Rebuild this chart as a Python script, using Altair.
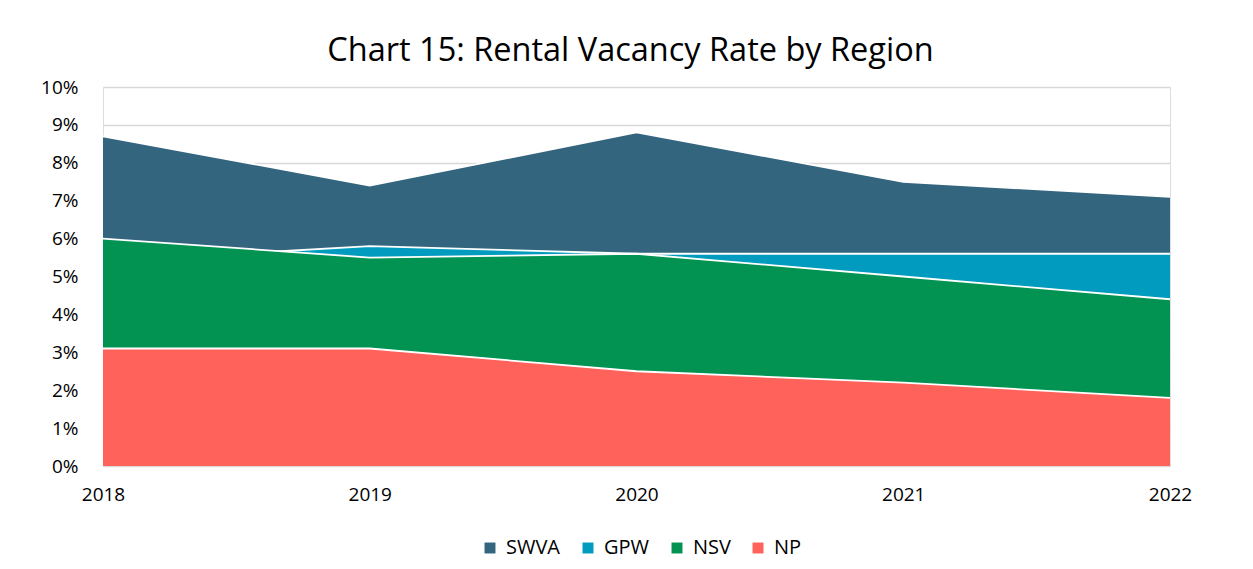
import altair as alt
import pandas as pd

years = [2018, 2019, 2020, 2021, 2022]
series = ["SWVA", "GPW", "NSV", "NP"]
swva = [0.087, 0.074, 0.088, 0.075, 0.071]
gpw = [0.054, 0.058, 0.056, 0.056, 0.056]
nsv = [0.060, 0.055, 0.056, 0.050, 0.044]
np_ = [0.031, 0.031, 0.025, 0.022, 0.018]
colors = ["#34657F", "#009BBE", "#029353", "#FF625A"]
y_ticks = [0, 0.01, 0.02, 0.03, 0.04, 0.05, 0.06, 0.07, 0.08, 0.09, 0.10]

values = {"SWVA": swva, "GPW": gpw, "NSV": nsv, "NP": np_}
rows = []
for s in series:
    for yr, v in zip(years, values[s]):
        rows.append({"Year": yr, "Region": s, "Rate": v})
df = pd.DataFrame(rows)

FONT = "Open Sans"

color = alt.Color(
    "Region:N",
    scale=alt.Scale(domain=series, range=colors),
    legend=alt.Legend(
        title=None,
        orient="none",
        direction="horizontal",
        legendX=377,
        legendY=451,
        padding=0,
        symbolType="square",
        symbolSize=120,
        symbolStrokeWidth=0,
        labelFont=FONT,
        labelFontSize=20,
        labelColor="#000000",
        columnPadding=17,
        labelOffset=6,
    ),
)

x = alt.X(
    "Year:Q",
    scale=alt.Scale(domain=[2018, 2022], nice=False, zero=False),
    axis=alt.Axis(
        title=None,
        values=years,
        format="d",
        grid=False,
        domain=False,
        ticks=False,
        labelFont=FONT,
        labelFontSize=19,
        labelColor="#000000",
        labelPadding=19,
        labelFlush=False,
    ),
)
y = alt.Y(
    "Rate:Q",
    stack=None,
    scale=alt.Scale(domain=[0, 0.1], nice=False),
    axis=alt.Axis(
        title=None,
        values=y_ticks,
        format=".0%",
        grid=True,
        gridColor="#D9D9D9",
        gridWidth=1.5,
        domain=False,
        ticks=False,
        labelFont=FONT,
        labelFontSize=19,
        labelColor="#000000",
        labelPadding=25,
    ),
)

layers = []
for s in series:
    base = alt.Chart(df).transform_filter(alt.datum.Region == s)
    layers.append(base.mark_area(opacity=1).encode(x=x, y=y, color=color))
    layers.append(
        base.mark_line(strokeWidth=1.8).encode(x=x, y=y, color=alt.value("white"))
    )

chart = (
    alt.layer(*layers)
    .properties(
        width=1067,
        height=379,
        autosize=alt.AutoSizeParams(type="none"),
        padding={"left": 95, "top": 79, "right": 75, "bottom": 95},
        title=alt.Title(
            "Chart 15: Rental Vacancy Rate by Region",
            font=FONT,
            fontSize=32.5,
            fontWeight="normal",
            color="#000000",
            anchor="middle",
            dx=-6,
            offset=11,
        ),
    )
    .configure_view(stroke=None)
    .configure(background="white")
)

chart.save("out.html", embed_options={"renderer": "svg", "actions": False})
